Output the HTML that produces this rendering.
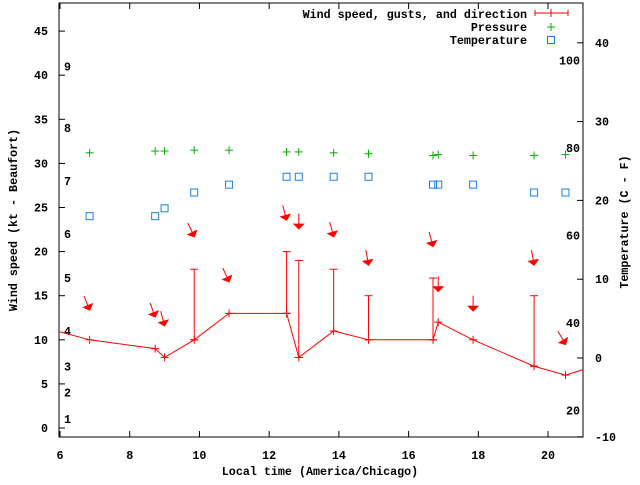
<!DOCTYPE html>
<html><head><meta charset="utf-8"><style>
body{margin:0;background:#fff}
svg text{font-family:"Liberation Mono",monospace;font-size:11.7px;font-weight:bold;fill:#000}
</style></head><body>
<svg id="c" width="640" height="480" viewBox="0 0 640 480"></svg>
<script>
const times=[6.85,8.73,9.0,9.85,10.85,12.5,12.85,13.85,14.85,16.7,16.85,17.85,19.6,20.5];
const wind=[10,9,8,10,13,13,8,11,10,10,12,10,7,6];
const gustTimes=[9.85,12.5,12.85,13.85,14.85,16.7,19.6];
const gustBase=[10,13,8,11,10,10,7];
const gustTop=[18,20,19,18,15,17,15];
const edgeTimes=[6.0,21.0];
const edgeWind=[10.9,6.6];
const pressure=[31.2,31.4,31.4,31.5,31.5,31.3,31.3,31.2,31.1,30.9,31.0,30.9,30.9,31.0];
const tempC=[18,18,19,21,22,23,23,23,23,22,22,22,21,21];
const arrowY=[13.4,12.6,11.6,21.7,16.6,23.6,22.6,21.7,18.5,20.6,15.5,13.3,18.5,9.5];
const arrowDir=[338,340,345,335,335,345,360,345,350,345,360,360,350,330];
const xTicks=[6,8,10,12,14,16,18,20];
const yTicks=[0,5,10,15,20,25,30,35,40,45];
const y2Ticks=[-10,0,10,20,30,40];
const fLabels=[20,40,60,80,100];
const bLabels=[1,2,3,4,5,6,7,8,9];
const bVals=[1.0,4.0,7.0,11.0,17.0,22.0,28.0,34.0,41.0];

const L=59,R=583,T=3,B=437;
const X=t=>60+(t-6)*34.86;
const Y=v=>428-v*8.82;
const Y2=c=>358-c*7.88;
const YF=f=>Y2((f-32)*5/9);
const svg=document.getElementById('c');
const NS='http://www.w3.org/2000/svg';
function mk(tag,attrs,parent){const e=document.createElementNS(NS,tag);for(const k in attrs)e.setAttribute(k,attrs[k]);(parent||svg).appendChild(e);return e;}
function txt(x,y,s,anchor,parent){const e=mk('text',{x:x,y:y,'text-anchor':anchor||'start'},parent);e.textContent=s;return e;}

// frame
const fr=mk('rect',{x:L,y:T,width:R-L,height:B-T,fill:'none',stroke:'#000','stroke-width':1});


const xa=mk('g',{});
xTicks.forEach(t=>{const x=X(t);mk('line',{x1:x,y1:B,x2:x,y2:B-6,stroke:'#000'},xa);mk('line',{x1:x,y1:T,x2:x,y2:T+6,stroke:'#000'},xa);txt(x,459,String(t),'middle',xa);});
const ya=mk('g',{});
yTicks.forEach(v=>{const y=Y(v);mk('line',{x1:L,y1:y,x2:L+6,y2:y,stroke:'#000'},ya);txt(48,y+4,String(v),'end',ya);});
const y2a=mk('g',{});
y2Ticks.forEach(v=>{const y=Y2(v);mk('line',{x1:R,y1:y,x2:R-6,y2:y,stroke:'#000'},y2a);txt(595,y+4,String(v),'start',y2a);});
const fa=mk('g',{});
fLabels.forEach(f=>txt(580,YF(f)+4,String(f),'end',fa));
const ba=mk('g',{});
bLabels.forEach((b,i)=>txt(64,Y(bVals[i])+4,String(b),'start',ba));

// axis titles
const xt=txt(320,475,'Local time (America/Chicago)','middle');
const yt=txt(0,0,'Wind speed (kt - Beaufort)','middle');yt.setAttribute('transform','translate(17,220) rotate(-90)');
const y2t=txt(0,0,'Temperature (C - F)','middle');y2t.setAttribute('transform','translate(628,222) rotate(-90)');

// wind line
const pts=[[edgeTimes[0],edgeWind[0]]].concat(times.map((t,i)=>[t,wind[i]])).concat([[edgeTimes[1],edgeWind[1]]]);
const wl=mk('polyline',{points:pts.map(p=>X(p[0])+','+Y(p[1])).join(' '),fill:'none',stroke:'#f00','stroke-width':1});

const wm=mk('g',{stroke:'#f00','stroke-width':1});
times.forEach((t,i)=>{const x=X(t),y=Y(wind[i]);mk('line',{x1:x-4,y1:y,x2:x+4,y2:y},wm);mk('line',{x1:x,y1:y-4,x2:x,y2:y+4},wm);});
// gusts
const gg=mk('g',{stroke:'#f00','stroke-width':1});
gustTimes.forEach((t,i)=>{const x=X(t),y1=Y(gustBase[i]),y2=Y(gustTop[i]);mk('line',{x1:x,y1:y1,x2:x,y2:y2},gg);mk('line',{x1:x-4,y1:y2,x2:x+4,y2:y2},gg);mk('line',{x1:x-4,y1:y1,x2:x+4,y2:y1},gg);});
// arrows
const ag=mk('g',{});
times.forEach((t,i)=>{const x=X(t),y=Y(arrowY[i]);const rot=arrowDir[i]-360;
 const g=mk('g',{transform:`translate(${x},${y}) rotate(${rot})`},ag);
 mk('line',{x1:0,y1:-15,x2:0,y2:-4,stroke:'#f00','stroke-width':1},g);
 mk('polygon',{points:'-6,-5 6,-5 0,1',fill:'#f00'},g);});
// pressure
const pg=mk('g',{stroke:'#00b000','stroke-width':1});
times.forEach((t,i)=>{const x=X(t),y=Y(pressure[i]);mk('line',{x1:x-4,y1:y,x2:x+4,y2:y},pg);mk('line',{x1:x,y1:y-4,x2:x,y2:y+4},pg);});
// temperature
const tg=mk('g',{stroke:'#1a7fe6','stroke-width':1,fill:'none'});
times.forEach((t,i)=>{const x=X(t),y=Y2(tempC[i]);mk('rect',{x:x-3.5,y:y-3.5,width:7,height:7},tg);});

// legend
const lg=mk('g',{});
txt(527,18,'Wind speed, gusts, and direction','end',lg);
txt(527,31,'Pressure','end',lg);
txt(527,44,'Temperature','end',lg);
mk('line',{x1:535,y1:13,x2:568,y2:13,stroke:'#f00'},lg);
mk('line',{x1:535,y1:10,x2:535,y2:16,stroke:'#f00'},lg);
mk('line',{x1:568,y1:10,x2:568,y2:16,stroke:'#f00'},lg);
mk('line',{x1:551,y1:9,x2:551,y2:17,stroke:'#f00'},lg);
mk('line',{x1:547,y1:27,x2:555,y2:27,stroke:'#00b000'},lg);
mk('line',{x1:551,y1:23,x2:551,y2:31,stroke:'#00b000'},lg);
mk('rect',{x:547.5,y:36.5,width:7,height:7,fill:'none',stroke:'#1a7fe6'},lg);
</script>
</body></html>
